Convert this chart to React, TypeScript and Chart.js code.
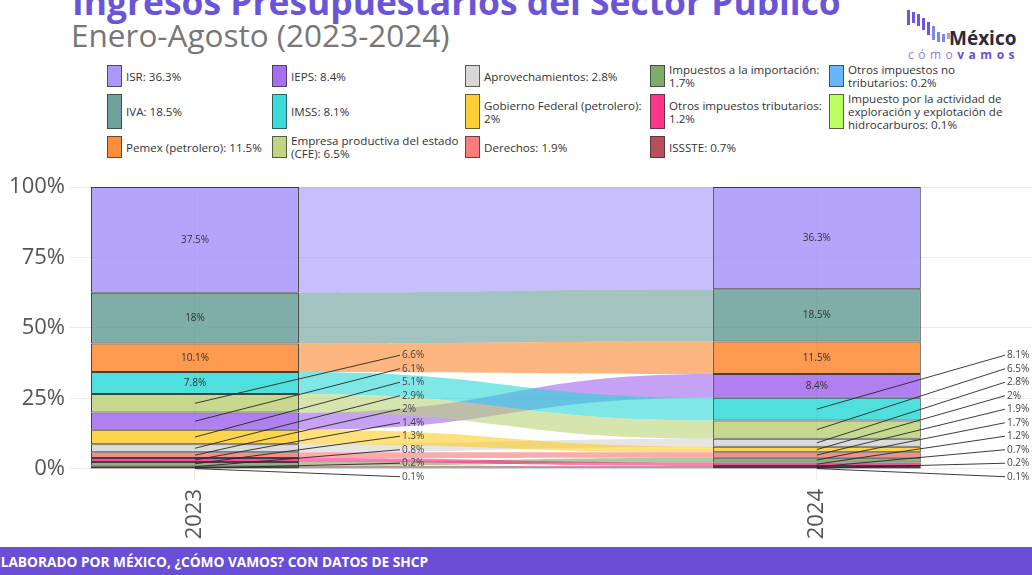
import React, { useEffect, useRef } from 'react';
import { Chart, registerables } from 'chart.js';

Chart.register(...registerables);

const FONT = '"Open Sans", "Noto Sans", sans-serif';

// ---------- data ----------
const years = [2023, 2024];
const categories = [
  'ISR',
  'IVA',
  'Pemex (petrolero)',
  'IEPS',
  'IMSS',
  'Empresa productiva del estado (CFE)',
  'Aprovechamientos',
  'Gobierno Federal (petrolero)',
  'Derechos',
  'Impuestos a la importación',
  'Otros impuestos tributarios',
  'ISSSTE',
  'Otros impuestos no tributarios',
  'Impuesto por la actividad de exploración y explotación de hidrocarburos',
];
const values2023 = [37.5, 18, 10.1, 6.1, 7.8, 6.6, 2.9, 5.1, 2, 1.3, 1.4, 0.8, 0.2, 0.1];
const values2024 = [36.3, 18.5, 11.5, 8.4, 8.1, 6.5, 2.8, 2, 1.9, 1.7, 1.2, 0.7, 0.2, 0.1];
const colors = [
  '#a18dfb',
  '#5f9892',
  '#fc8123',
  '#9c5fec',
  '#23d8d6',
  '#b8d073',
  '#d3d3d3',
  '#fdca1f',
  '#fa6e6e',
  '#6fa35b',
  '#ff1f7f',
  '#b23a48',
  '#5aaefc',
  '#b5ff4f',
];
const yTickValues = [0, 25, 50, 75, 100];
const INSIDE_COUNT = 4;
const title = 'Ingresos Presupuestarios del Sector Público';
const subtitle = 'Enero-Agosto (2023-2024)';
const footer = 'ELABORADO POR MÉXICO, ¿CÓMO VAMOS? CON DATOS DE SHCP';

// ---------- helpers ----------
function rgba(hex: string, a: number) {
  const n = parseInt(hex.slice(1), 16);
  return `rgba(${(n >> 16) & 255},${(n >> 8) & 255},${n & 255},${a})`;
}
const fmt = (v: number) => `${v}%`;

function buildStack(values: number[]) {
  const total = values.reduce((a, b) => a + b, 0);
  const order = values.map((_, i) => i).sort((a, b) => values[b] - values[a]);
  const ranges: [number, number][] = new Array(values.length);
  let top = 100;
  for (const i of order) {
    const h = (values[i] / total) * 100;
    ranges[i] = [top - h, top];
    top -= h;
  }
  return { ranges, order, values };
}
const stacks = [buildStack(values2023), buildStack(values2024)];

function wrapText(text: string, maxChars: number) {
  const words = text.split(' ');
  const lines: string[] = [];
  let cur = '';
  for (const w of words) {
    if (cur && (cur + ' ' + w).length > maxChars) {
      lines.push(cur);
      cur = w;
    } else cur = cur ? cur + ' ' + w : w;
  }
  if (cur) lines.push(cur);
  return lines.join('\n');
}

// ---------- plugins ----------
const flowPlugin = {
  id: 'flows',
  beforeDatasetsDraw(chart: any) {
    const { ctx, scales } = chart;
    const x = scales.x;
    const y = scales.y;
    const bar = chart.getDatasetMeta(0).data[0];
    const hw = bar.width / 2;
    const x1 = x.getPixelForValue(years[0]) + hw;
    const x2 = x.getPixelForValue(years[1]) - hw;
    const xm = (x1 + x2) / 2;
    ctx.save();
    categories.forEach((_, i) => {
      const [a1, b1] = stacks[0].ranges[i];
      const [a2, b2] = stacks[1].ranges[i];
      const t1 = y.getPixelForValue(b1);
      const u1 = y.getPixelForValue(a1);
      const t2 = y.getPixelForValue(b2);
      const u2 = y.getPixelForValue(a2);
      ctx.beginPath();
      ctx.moveTo(x1, t1);
      ctx.bezierCurveTo(xm, t1, xm, t2, x2, t2);
      ctx.lineTo(x2, u2);
      ctx.bezierCurveTo(xm, u2, xm, u1, x1, u1);
      ctx.closePath();
      ctx.fillStyle = rgba(colors[i], 0.58);
      ctx.fill();
    });
    ctx.restore();
  },
};

const labelPlugin = {
  id: 'barLabels',
  afterDatasetsDraw(chart: any) {
    const { ctx, scales, chartArea } = chart;
    const x = scales.x;
    const y = scales.y;
    ctx.save();
    ctx.font = `10px ${FONT}`;
    years.forEach((yr, k) => {
      const { ranges, order, values } = stacks[k];
      const xc = x.getPixelForValue(yr);
      order.slice(0, INSIDE_COUNT).forEach((i) => {
        const [lo, hi] = ranges[i];
        ctx.fillStyle = '#333';
        ctx.textAlign = 'center';
        ctx.textBaseline = 'middle';
        ctx.fillText(fmt(values[i]), xc, y.getPixelForValue((lo + hi) / 2));
      });
      const outside = order.slice(INSIDE_COUNT);
      const baseY = y.getPixelForValue(0) + 8;
      const xEnd = Math.min(xc + 205, chartArea.right - 27);
      outside.forEach((i, j) => {
        const [lo, hi] = ranges[i];
        const ly = baseY - (outside.length - 1 - j) * 13.5;
        const my = y.getPixelForValue((lo + hi) / 2);
        ctx.strokeStyle = 'rgba(40,40,40,0.9)';
        ctx.lineWidth = 1;
        ctx.beginPath();
        ctx.moveTo(xc, my);
        ctx.lineTo(xEnd, ly);
        ctx.stroke();
        ctx.fillStyle = '#444';
        ctx.textAlign = 'left';
        ctx.textBaseline = 'middle';
        ctx.fillText(fmt(values[i]), xEnd + 2, ly);
      });
    });
    ctx.restore();
  },
};

// ---------- legend ----------
const legendColumns = [107, 272, 465, 650, 829];
const legendRows = 3;

function Legend() {
  const colWidths = legendColumns.map((c, i) => (i < legendColumns.length - 1 ? legendColumns[i + 1] - c : 195));
  return (
    <div
      style={{
        position: 'absolute',
        left: legendColumns[0],
        top: 63,
        display: 'grid',
        gridTemplateColumns: colWidths.map((w) => `${w}px`).join(' '),
        gridTemplateRows: `repeat(${legendRows}, auto)`,
        gridAutoFlow: 'column',
        rowGap: 3,
        fontSize: 11.6,
        lineHeight: '13px',
        color: '#333',
      }}
    >
      {categories.map((name, i) => (
        <div key={name} style={{ display: 'flex', alignItems: 'stretch' }}>
          <div
            style={{
              width: 15,
              flex: '0 0 15px',
              margin: '2px 4px 2px 0',
              boxSizing: 'border-box',
              border: '1px solid rgba(50,50,50,0.75)',
              background: rgba(colors[i], 0.9),
            }}
          />
          <div style={{ alignSelf: 'center', whiteSpace: 'pre' }}>
            {wrapText(`${name}: ${fmt(values2024[i])}`, 29)}
          </div>
        </div>
      ))}
    </div>
  );
}

function Logo() {
  const bars = [
    [10, 15],
    [12, 11],
    [14, 12],
    [18, 12],
    [22, 13],
    [26, 14],
    [32, 10],
    [34, 8],
    [33, 6],
  ];
  return (
    <div style={{ position: 'absolute', left: 0, top: 0 }}>
      {bars.map(([t, h], i) => (
        <div
          key={i}
          style={{
            position: 'absolute',
            left: 907 + i * 5,
            top: t,
            width: 3,
            height: h,
            background: i < 5 ? '#7252e0' : i < 8 ? '#7d86f0' : '#9aa0f5',
          }}
        />
      ))}
      <div
        style={{
          position: 'absolute',
          left: 949,
          top: 26,
          fontSize: 19,
          fontWeight: 700,
          color: '#2a2a3a',
          lineHeight: '24px',
        }}
      >
        México
      </div>
      <div
        style={{
          position: 'absolute',
          left: 908,
          top: 47,
          fontSize: 12,
          lineHeight: '16px',
          letterSpacing: 4.5,
          whiteSpace: 'nowrap',
        }}
      >
        <span style={{ color: '#8d7ee6' }}>cómo</span>
        <span style={{ color: '#6a4fd8', fontWeight: 700 }}>vamos</span>
      </div>
    </div>
  );
}

export default function App() {
  const canvasRef = useRef<HTMLCanvasElement>(null);

  useEffect(() => {
    const datasets = categories.map((name, i) => ({
      type: 'bar' as const,
      label: name,
      data: years.map((yr, k) => ({ x: yr, y: stacks[k].ranges[i] })),
      backgroundColor: rgba(colors[i], 0.8),
      borderColor: 'rgba(30,30,30,0.85)',
      borderWidth: 1,
      borderSkipped: false,
      stack: 'all',
      categoryPercentage: 0.3344,
      barPercentage: 1,
    }));

    const chart = new Chart(canvasRef.current as HTMLCanvasElement, {
      type: 'bar',
      data: { datasets: datasets as any },
      options: {
        animation: false,
        responsive: true,
        maintainAspectRatio: false,
        layout: { padding: { top: 27, right: 0, left: 0, bottom: 0 } },
        plugins: { legend: { display: false }, tooltip: { enabled: false } },
        scales: {
          x: {
            type: 'linear',
            min: 2022.799,
            max: 2024.346,
            offset: false,
            stacked: true,
            afterBuildTicks: (s: any) => {
              s.ticks = years.map((v) => ({ value: v }));
            },
            afterFit: (s: any) => {
              s.height = 65;
            },
            ticks: {
              minRotation: 90,
              maxRotation: 90,
              padding: 9,
              color: '#555',
              font: { size: 22, family: FONT },
              callback: (v: any) => String(v),
            },
            grid: { color: '#ececec', drawTicks: false, offset: false },
            border: { display: false },
          },
          y: {
            type: 'linear',
            min: -4,
            max: 100,
            stacked: false,
            afterBuildTicks: (s: any) => {
              s.ticks = yTickValues.map((v) => ({ value: v }));
            },
            afterFit: (s: any) => {
              s.width = 70;
            },
            ticks: {
              padding: 5,
              color: '#555',
              font: { size: 22, family: FONT },
              callback: (v: any) => `${v}%`,
            },
            grid: { color: '#ececec', drawTicks: false },
            border: { display: false },
          },
        },
      } as any,
      plugins: [flowPlugin, labelPlugin],
    });
    return () => chart.destroy();
  }, []);

  return (
    <div
      style={{
        position: 'absolute',
        left: 0,
        top: 0,
        width: 1032,
        height: 575,
        overflow: 'hidden',
        background: '#fff',
        fontFamily: FONT,
      }}
    >
      <div
        style={{
          position: 'absolute',
          left: 72,
          top: -16,
          fontSize: 35.4,
          lineHeight: '35px',
          fontWeight: 700,
          color: '#6a55d9',
          whiteSpace: 'nowrap',
        }}
      >
        {title}
      </div>
      <div
        style={{
          position: 'absolute',
          left: 71,
          top: 19,
          fontSize: 31.5,
          lineHeight: '31.5px',
          color: '#777',
          whiteSpace: 'nowrap',
        }}
      >
        {subtitle}
      </div>
      <Logo />
      <Legend />
      <div style={{ position: 'absolute', left: 0, top: 160, width: 1032, height: 385 }}>
        <canvas ref={canvasRef} />
      </div>
      <div
        style={{
          position: 'absolute',
          left: 0,
          top: 547,
          width: 1032,
          height: 28,
          background: '#6a4fd6',
        }}
      >
        <div
          style={{
            position: 'absolute',
            left: -7,
            top: 6,
            fontSize: 13.7,
            lineHeight: '18px',
            fontWeight: 700,
            color: '#fff',
            whiteSpace: 'nowrap',
          }}
        >
          {footer}
        </div>
      </div>
    </div>
  );
}
